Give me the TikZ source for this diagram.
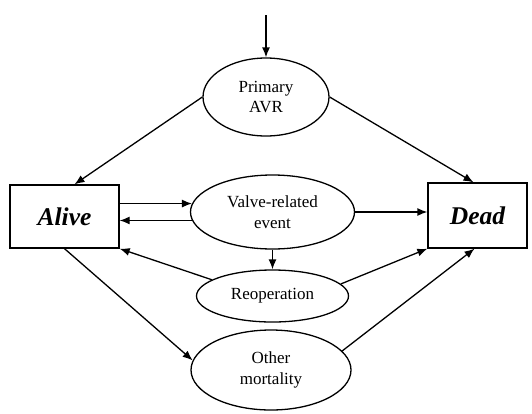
\documentclass[tikz,border=0pt]{standalone}
\usepackage{fontspec}
\setmainfont{Liberation Serif}
\usetikzlibrary{shapes.geometric,arrows.meta}
\begin{document}
\begin{tikzpicture}[x=1pt,y=-1pt,line width=1.3pt,
  state/.style={draw,ellipse,inner sep=0pt,align=center,font=\fontsize{17}{20.5}\selectfont},
  box/.style={draw,rectangle,inner sep=0pt,font=\fontsize{25.5}{28}\selectfont\bfseries\itshape},
  arr/.style={-{Latex[length=10pt,width=8pt]}}]
\useasboundingbox(0,0)rectangle(532,413);
\coordinate(entry)at(266,15);
\node[state,minimum width=126,minimum height=78](primary)at(266,97){Primary\\AVR};
\node[state,minimum width=164,minimum height=74](valve)at(272.5,212){Valve-related\\event};
\node[state,minimum width=152,minimum height=52](reop)at(272.5,296){Reoperation};
\node[state,minimum width=160,minimum height=80](other)at(271,370){Other\\mortality};
\node[box,minimum width=109,minimum height=63](alive)at(64.5,216.5){Alive};
\node[box,minimum width=99,minimum height=65](dead)at(477.5,215.5){Dead};
%
\draw[arr](entry)--(primary.north);
\draw[arr](primary.west)--([xshift=10pt]alive.north);
\draw[arr](primary.east)--([xshift=-4pt]dead.north);
\draw[arr](alive.east|-valve.174)--(valve.174);
\draw[arr](valve.186)--(alive.east|-valve.186);
\draw[arr](valve.east)--(valve.east-|dead.west);
\draw[arr](valve.south)--(reop.north);
\draw[arr](reop.165)--(alive.south east);
\draw[arr](reop.10)--(dead.south west);
\draw[arr](alive.south)--(other.173);
\draw[arr](other.15)--([xshift=-3pt]dead.south);
\end{tikzpicture}
\end{document}
